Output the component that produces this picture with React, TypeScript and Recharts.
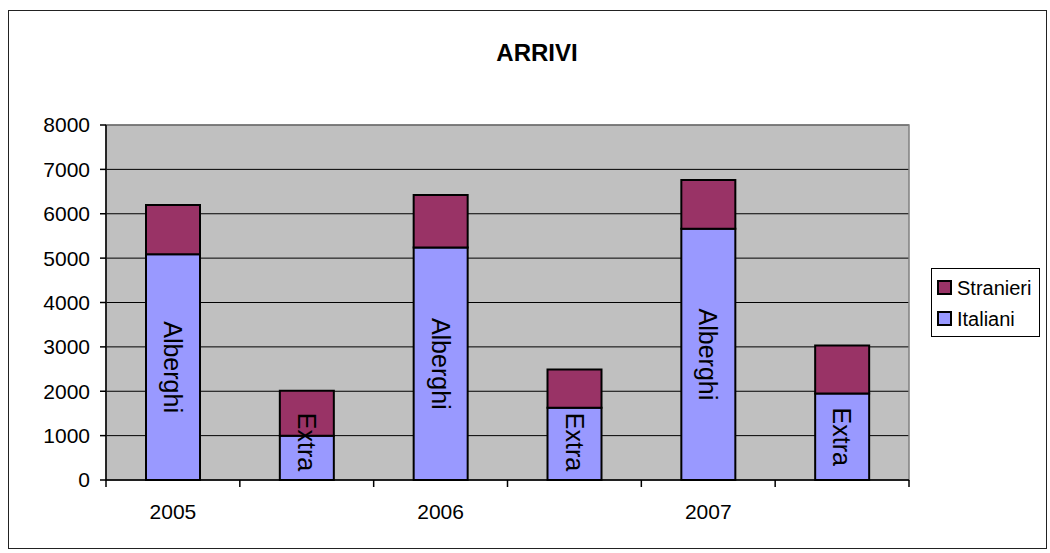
import { BarChart, Bar, XAxis, YAxis, CartesianGrid, LabelList, ReferenceArea } from 'recharts';

const YEARS = ['2005', '2005', '2006', '2006', '2007', '2007'];
const TYPES = ['Alberghi', 'Extra', 'Alberghi', 'Extra', 'Alberghi', 'Extra'];
const ITALIANI = [5090, 1000, 5240, 1630, 5660, 1950];
const STRANIERI = [1110, 1010, 1180, 860, 1100, 1080];
const Y_TICKS = [0, 1000, 2000, 3000, 4000, 5000, 6000, 7000, 8000];

const DATA = YEARS.map((year, i) => ({
  key: `${year}-${TYPES[i]}`,
  year,
  tipo: TYPES[i],
  italiani: ITALIANI[i],
  stranieri: STRANIERI[i],
}));

const FONT = '"Liberation Sans", Arial, sans-serif';
const CHART_W = 1050;
const CHART_H = 553;
const PLOT_LEFT = 106;
const PLOT_RIGHT = 909;
const PLOT_TOP = 125;
const PLOT_BOTTOM = 480;
const YAXIS_W = 60;
const XAXIS_H = 45;
const BAND = (PLOT_RIGHT - PLOT_LEFT) / DATA.length;

const COLOR_ITA = '#9999FF';
const COLOR_STR = '#993366';

function XTick(props: any) {
  const { x, y, payload } = props;
  const i = payload.index;
  const left = x - BAND / 2;
  const isLast = i === DATA.length - 1;
  return (
    <g>
      <line x1={left} x2={left} y1={y} y2={y + 7} stroke="#000" strokeWidth={1.5} />
      {isLast && <line x1={x + BAND / 2} x2={x + BAND / 2} y1={y} y2={y + 7} stroke="#000" strokeWidth={1.5} />}
      {TYPES[i] === 'Alberghi' && (
        <text x={x} y={y + 31} textAnchor="middle" dominantBaseline="central" fontSize={21} fill="#000" fontFamily={FONT}>
          {YEARS[i]}
        </text>
      )}
    </g>
  );
}

function TipoLabel(props: any) {
  const x = Number(props.x);
  const y = Number(props.y);
  const w = Number(props.width);
  const h = Number(props.height);
  const cx = x + w / 2;
  const cy = Math.min(y + h / 2, y + h - 38);
  return (
    <text
      transform={`translate(${cx},${cy}) rotate(90)`}
      textAnchor="middle"
      dominantBaseline="central"
      fontSize={25}
      fill="#000"
      fontFamily={FONT}
    >
      {props.value}
    </text>
  );
}

function LegendBox() {
  const items = [
    { name: 'Stranieri', color: COLOR_STR },
    { name: 'Italiani', color: COLOR_ITA },
  ];
  return (
    <div
      style={{
        position: 'absolute',
        left: 931,
        top: 268,
        border: '1px solid #000',
        background: '#fff',
        width: 109,
        height: 69,
        boxSizing: 'border-box',
        paddingTop: 3,
        paddingLeft: 5,
        fontFamily: FONT,
      }}
    >
      {items.map((it) => (
        <div key={it.name} style={{ display: 'flex', alignItems: 'center', height: 31 }}>
          <span
            style={{
              display: 'inline-block',
              width: 11,
              height: 11,
              background: it.color,
              border: '2px solid #000',
              marginRight: 5,
            }}
          />
          <span style={{ fontSize: 20, color: '#000', lineHeight: '22px' }}>{it.name}</span>
        </div>
      ))}
    </div>
  );
}

export default function App() {
  return (
    <div style={{ position: 'absolute', left: 0, top: 0, width: CHART_W, height: CHART_H, background: '#fff', fontFamily: FONT }}>
      <div
        style={{
          position: 'absolute',
          left: 8,
          top: 10,
          width: 1039,
          height: 539,
          boxSizing: 'border-box',
          border: '1.5px solid #222',
        }}
      />
      <div
        style={{
          position: 'absolute',
          left: 0,
          width: CHART_W,
          top: 39,
          textAlign: 'center',
          paddingLeft: 24,
          boxSizing: 'border-box',
          fontSize: 24,
          fontWeight: 'bold',
          color: '#000',
        }}
      >
        ARRIVI
      </div>
      <div style={{ position: 'absolute', left: 0, top: 0 }}>
        <BarChart
          width={CHART_W}
          height={CHART_H}
          data={DATA}
          margin={{
            top: PLOT_TOP,
            right: CHART_W - PLOT_RIGHT,
            left: PLOT_LEFT - YAXIS_W,
            bottom: CHART_H - PLOT_BOTTOM - XAXIS_H,
          }}
        >
          <CartesianGrid fill="#C0C0C0" stroke="#000" vertical={false} horizontal strokeWidth={1} />
          <ReferenceArea y1={0} y2={8000} fill="none" stroke="#808080" strokeWidth={1.5} ifOverflow="visible" />
          <XAxis
            dataKey="key"
            height={XAXIS_H}
            axisLine={{ stroke: '#000', strokeWidth: 1.5 }}
            tickLine={false}
            tickSize={0}
            tickMargin={0}
            interval={0}
            tick={<XTick />}
          />
          <YAxis
            width={YAXIS_W}
            domain={[0, 8000]}
            ticks={Y_TICKS}
            interval={0}
            axisLine={{ stroke: '#000', strokeWidth: 1.5 }}
            tickLine={{ stroke: '#000', strokeWidth: 1.5 }}
            tickSize={6}
            tickMargin={10}
            tick={{ fill: '#000', fontSize: 21, fontFamily: FONT }}
          />
          <Bar dataKey="italiani" stackId="a" fill={COLOR_ITA} stroke="#000" strokeWidth={2} barSize={54} isAnimationActive={false}>
            <LabelList dataKey="tipo" content={<TipoLabel />} />
          </Bar>
          <Bar dataKey="stranieri" stackId="a" fill={COLOR_STR} stroke="#000" strokeWidth={2} barSize={54} isAnimationActive={false} />
        </BarChart>
      </div>
      <LegendBox />
    </div>
  );
}
